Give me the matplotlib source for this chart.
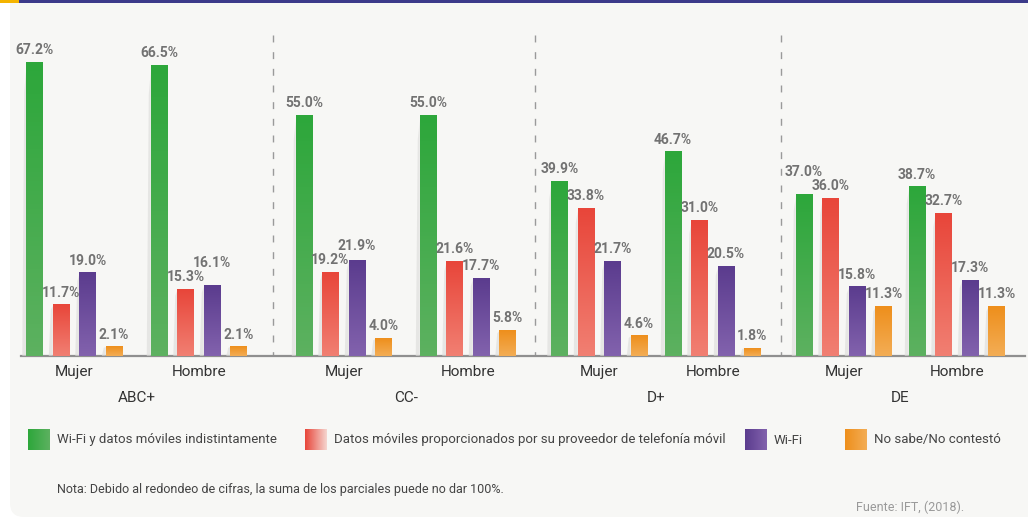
import numpy as np
import matplotlib.pyplot as plt
from matplotlib.colors import LinearSegmentedColormap
from matplotlib.patches import FancyBboxPatch, Rectangle

plt.rcParams["font.family"] = ["Roboto", "DejaVu Sans"]
narrow = ["Liberation Sans Narrow", "Roboto", "DejaVu Sans"]

# data
niveles = ["ABC+", "CC-", "D+", "DE"]
sexos = ["Mujer", "Hombre"]
series = ["Wi-Fi y datos móviles indistintamente",
          "Datos móviles proporcionados por su proveedor de telefonía móvil",
          "Wi-Fi", "No sabe/No contestó"]
wifi_datos = [67.2, 66.5, 55.0, 55.0, 39.9, 46.7, 37.0, 38.7]
datos_moviles = [11.7, 15.3, 19.2, 21.6, 33.8, 31.0, 36.0, 32.7]
solo_wifi = [19.0, 16.1, 21.9, 17.7, 21.7, 20.5, 15.8, 17.3]
no_sabe = [2.1, 2.1, 4.0, 5.8, 4.6, 1.8, 11.3, 11.3]
valores = [wifi_datos, datos_moviles, solo_wifi, no_sabe]

# gradient colours (top, bottom)
grad = [("#2da73b", "#5db160"), ("#e8463a", "#f17f72"),
        ("#5b3c8e", "#8262ad"), ("#ee8f1c", "#f3ad55")]

# layout (pixels)
W, H = 1028, 520
base_y = 356
panel_x = [34.5, 304, 559.5, 804]
hombre_off = [124.5, 124, 113.5, 113]
pitch = 26.5
bw = 16.5
sep_x = [273, 535, 781]

fig = plt.figure(figsize=(W / 100, H / 100), dpi=100)
fig.patch.set_facecolor("white")

# background overlay axes in pixel coords
bg = fig.add_axes([0, 0, 1, 1])
bg.set_xlim(0, W)
bg.set_ylim(H, 0)
bg.axis("off")
bg.add_patch(FancyBboxPatch((10, -20), W + 20, H + 17,
                            boxstyle="round,pad=0,rounding_size=14",
                            fc="#f7f7f5", ec="none"))
bg.add_patch(Rectangle((0, 0), W, 2.5, fc="#3c3a8a", ec="none"))
bg.add_patch(Rectangle((0, 0), 19, 2.5, fc="#f4b400", ec="none"))

scale = 4.37
ymax = (base_y - 20) / scale
ax = fig.add_axes([0, (H - base_y) / H, 1, (base_y - 20) / H])
ax.set_xlim(0, W)
ax.set_ylim(0, ymax)
ax.axis("off")

group_x = []
for p, x0 in enumerate(panel_x):
    group_x += [x0, x0 + hombre_off[p]]
group_x = np.array(group_x)

# label heights, separated where neighbours would collide
label_y = np.array(valores, dtype=float) + 1.2
gap = 3.2
for i in range(label_y.shape[1]):
    for k in range(1, 4):
        a, b = label_y[k - 1, i], label_y[k, i]
        if abs(a - b) < gap:
            if b >= a:
                label_y[k, i] = a + gap
            else:
                label_y[k - 1, i] = b + gap

vgrad = np.linspace(0, 1, 64).reshape(-1, 1)
for k, vals in enumerate(valores):
    cmap = LinearSegmentedColormap.from_list("g%d" % k, [grad[k][1], grad[k][0]])
    xs = group_x + k * pitch
    bars = ax.bar(xs, vals, width=bw, color=grad[k][0], zorder=3)
    for i, (b, v) in enumerate(zip(bars, vals)):
        x0, w, h = b.get_x(), b.get_width(), b.get_height()
        # soft shadow on the left
        ax.fill([x0 - 4, x0, x0, x0 - 2], [0, 0, h * 0.98, h * 0.9],
                color="#dcdcda", alpha=0.6, lw=0, zorder=2)
        ax.imshow(vgrad, extent=[x0, x0 + w, 0, h], origin="lower",
                  cmap=cmap, aspect="auto", zorder=4)
        b.set_visible(False)
        ax.text(x0 + w / 2, label_y[k, i], "%.1f%%" % v, ha="center",
                va="bottom", fontsize=10, fontweight="bold", color="#727272",
                family=narrow, zorder=5)
ax.set_xlim(0, W)
ax.set_ylim(0, ymax)

# baseline and separators
bg.plot([21, 1025], [base_y, base_y], color="#8f8f8f", lw=1.6, zorder=6)
for sx in sep_x:
    bg.plot([sx, sx], [35, base_y], color="#9a9a9a", lw=1,
            dashes=(5, 7), zorder=1)

# category labels
for i, gx in enumerate(group_x):
    bg.text(gx + 1.5 * pitch, 372, sexos[i % 2], ha="center", va="center",
            fontsize=11, color="#333333")
for p in range(4):
    cx = (group_x[2 * p] + group_x[2 * p + 1]) / 2 + 1.5 * pitch
    bg.text(cx, 398, niveles[p], ha="center", va="center",
            fontsize=11, color="#333333")

# legend
hgrad = np.linspace(0, 1, 64).reshape(1, -1)
leg_x = [28, 305, 745, 845]
for k in range(4):
    cmap = LinearSegmentedColormap.from_list("l%d" % k, [grad[k][0], "#f5d5cf" if k == 1 else grad[k][1]])
    bg.imshow(hgrad, extent=[leg_x[k], leg_x[k] + 22, 450, 429],
              cmap=cmap, aspect="auto", zorder=3)
    bg.text(leg_x[k] + 29, 440, series[k], ha="left", va="center",
            fontsize=9.5, color="#444444")
bg.set_xlim(0, W)
bg.set_ylim(H, 0)

bg.text(57, 490, "Nota: Debido al redondeo de cifras, la suma de los parciales puede no dar 100%.",
        ha="left", va="center", fontsize=9, color="#444444")
bg.text(964, 507, "Fuente: IFT, (2018).", ha="right", va="center",
        fontsize=9, color="#9a9a9a")

fig.savefig("out.png", dpi=100, facecolor="white")
